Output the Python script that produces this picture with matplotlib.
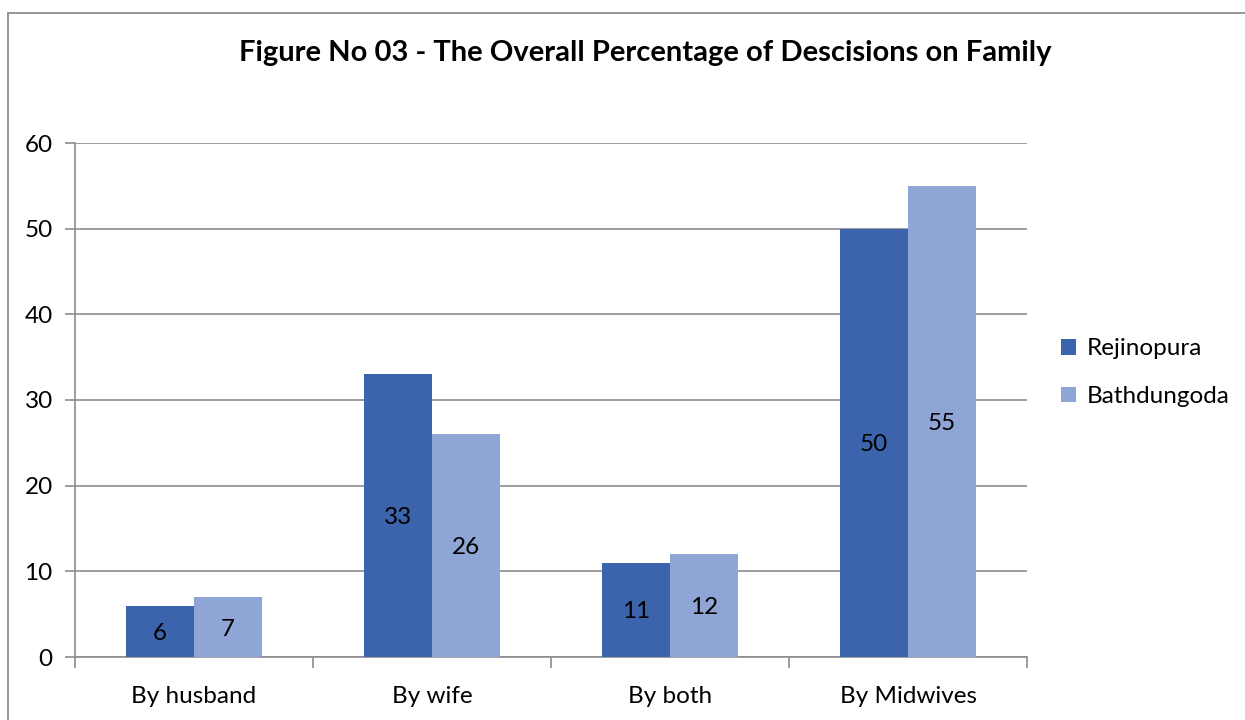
import numpy as np
import matplotlib.pyplot as plt
from matplotlib.patches import Rectangle

# datos
categorias = ['By husband', 'By wife', 'By both', 'By Midwives']
rejinopura = [6, 33, 11, 50]
bathdungoda = [7, 26, 12, 55]
yticks = [0, 10, 20, 30, 40, 50, 60]

plt.rcParams['font.family'] = ['Lato', 'DejaVu Sans']

fig = plt.figure(figsize=(12.45, 7.2), dpi=100)
ax = fig.add_axes([75 / 1245, 63 / 720, 952 / 1245, 514 / 720])

# marco exterior del grafico
fig.patches.append(Rectangle((8 / 1245, -0.05), 1.1, 1 - 12.5 / 720 + 0.05,
                             transform=fig.transFigure, fill=False,
                             ec='#8c8c8c', lw=1.3))

x = np.arange(len(categorias))
w = 0.286
b1 = ax.bar(x - w / 2, rejinopura, w, color='#3c64ad', label='Rejinopura', zorder=3)
b2 = ax.bar(x + w / 2, bathdungoda, w, color='#8ea5d5', label='Bathdungoda', zorder=3)

for bars, vals in ((b1, rejinopura), (b2, bathdungoda)):
    for r, v in zip(bars, vals):
        ax.text(r.get_x() + r.get_width() / 2, v / 2, str(v),
                ha='center', va='center_baseline', fontsize=17.5, color='black', zorder=4)

ax.set_xlim(-0.5, len(categorias) - 0.5)
ax.set_ylim(0, 60)
ax.set_yticks(yticks)
ax.set_yticklabels([str(t) for t in yticks], fontsize=17.5)
ax.set_xticks(x)
ax.set_xticklabels(categorias, fontsize=17.5)
ax.tick_params(axis='x', length=0, pad=21)
ax.tick_params(axis='y', length=7, color='#8c8c8c', pad=9, width=1.2)
ax.set_xticks(np.arange(-0.5, len(categorias)), minor=True)
ax.tick_params(axis='x', which='minor', length=8, color='#8c8c8c', width=1.2)

ax.grid(axis='y', color='#8c8c8c', lw=1.2, zorder=0)
for s in ('top', 'right'):
    ax.spines[s].set_visible(False)
for s in ('left', 'bottom'):
    ax.spines[s].set_color('#8c8c8c')
    ax.spines[s].set_linewidth(1.2)

fig.text(0.518, 0.926, 'Figure No 03 - The Overall Percentage of Descisions on Family',
         ha='center', va='center', fontsize=21, fontweight='bold')

ax.legend(loc='center left', bbox_to_anchor=(1.013, 0.553), frameon=False,
          fontsize=17.5, handlelength=0.6, handleheight=0.6, labelspacing=1.1,
          handletextpad=0.45)

fig.savefig('out.png', dpi=100)
